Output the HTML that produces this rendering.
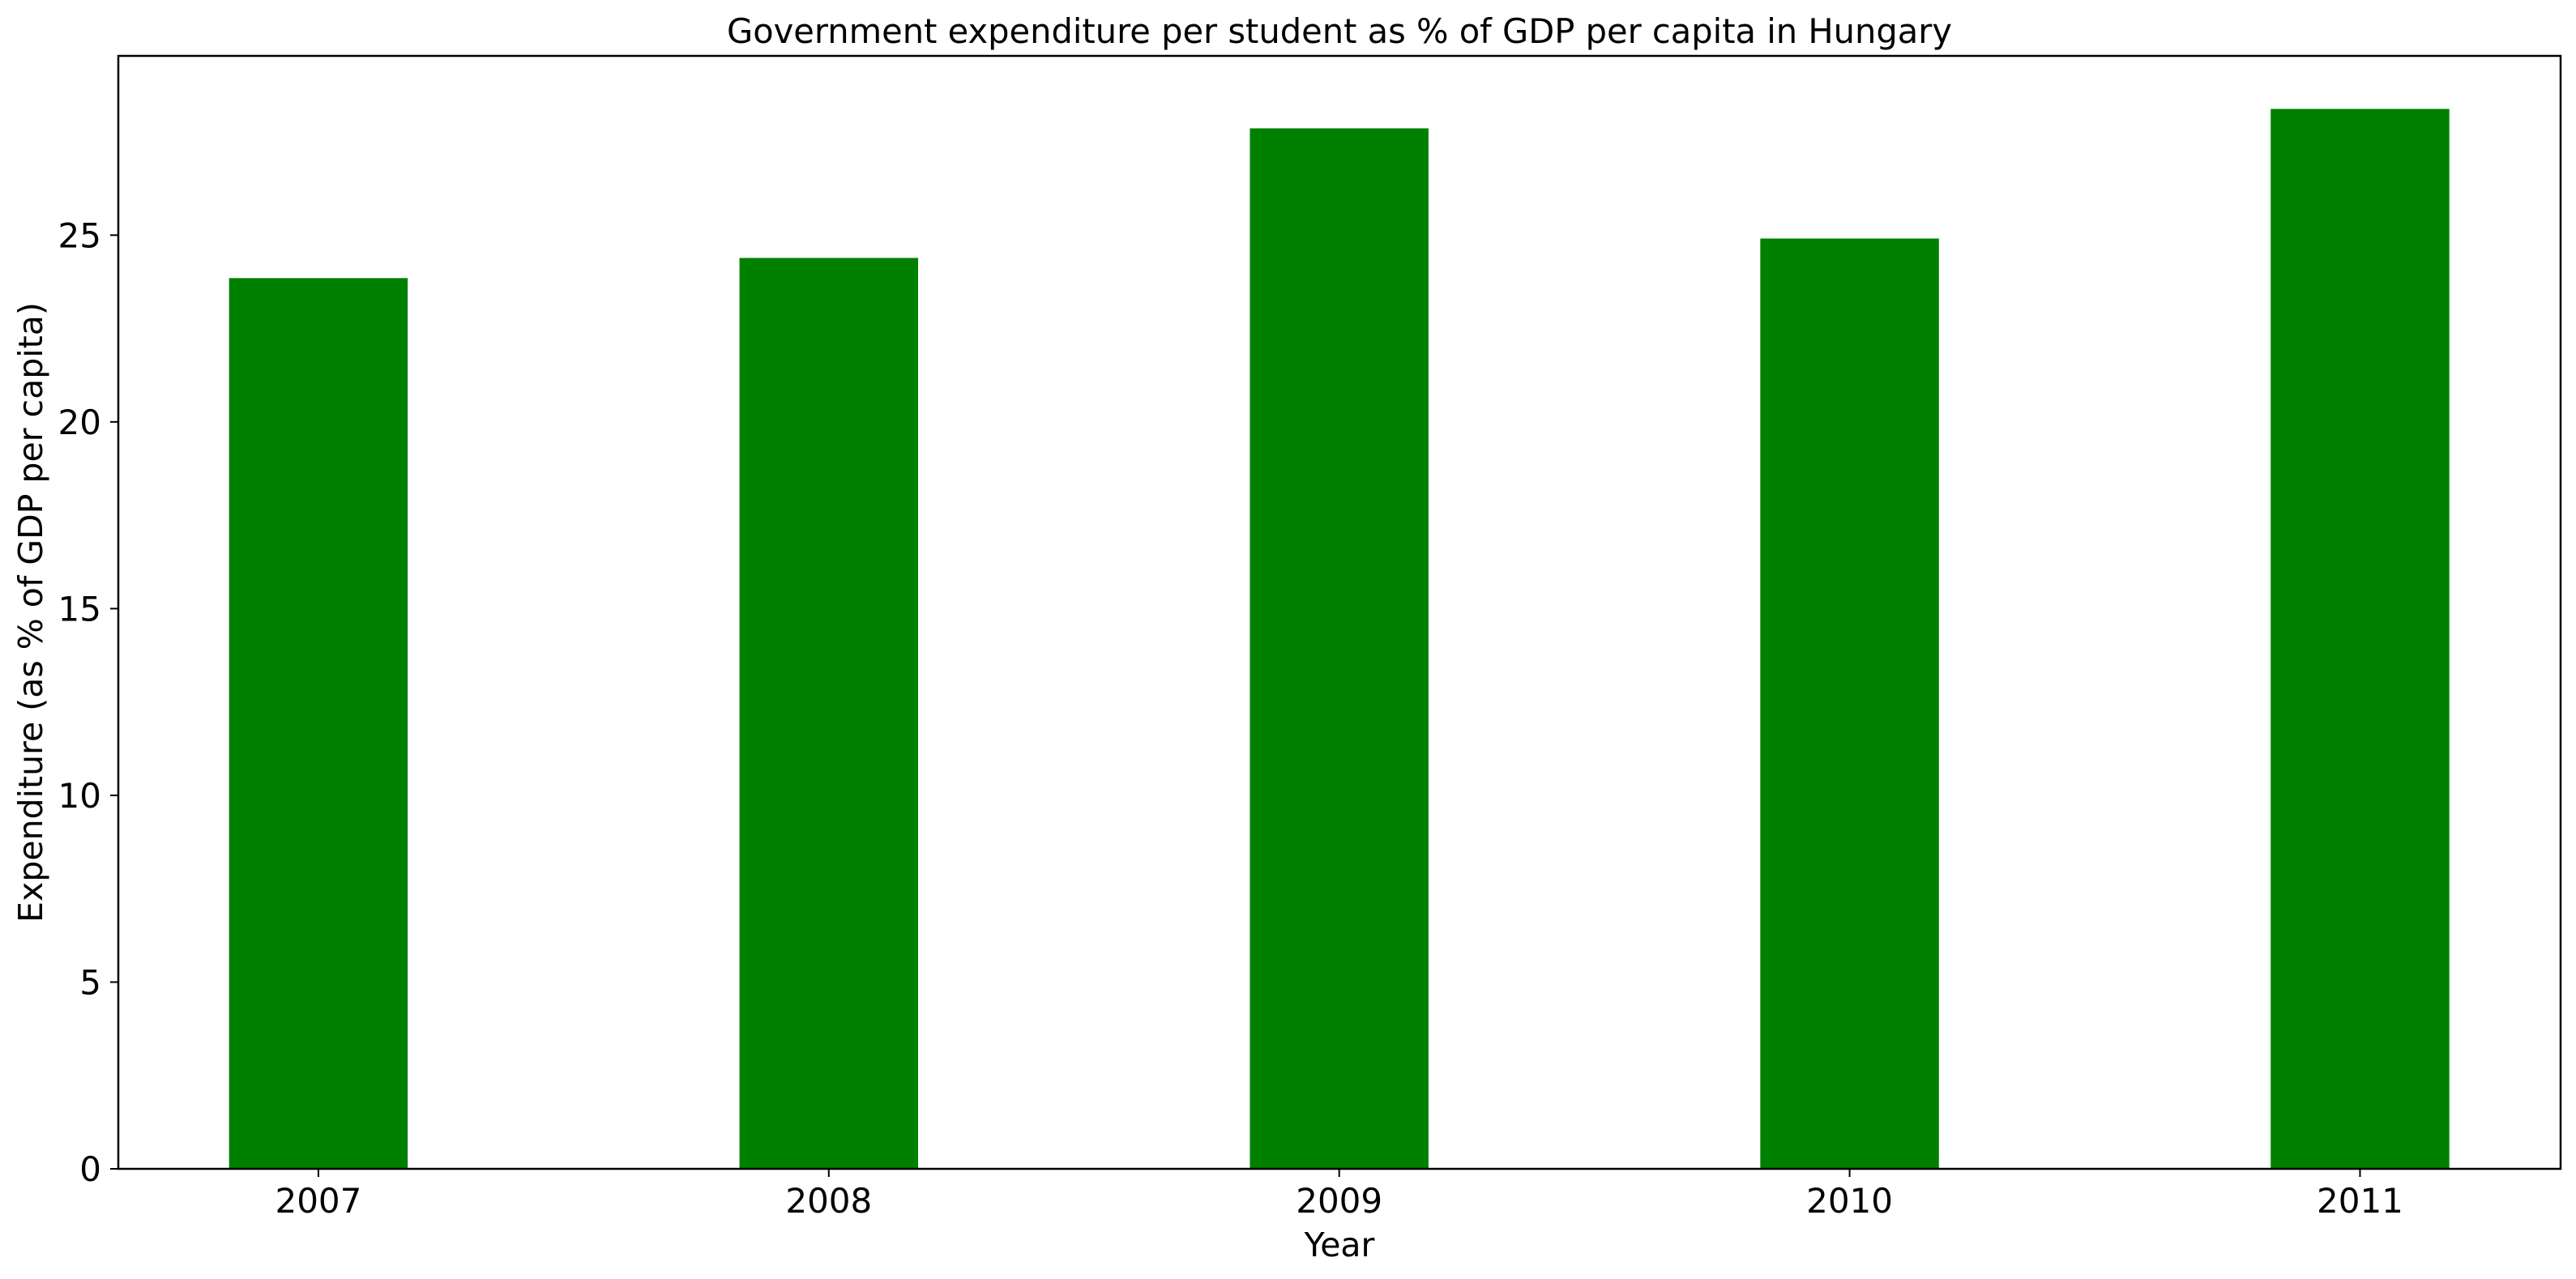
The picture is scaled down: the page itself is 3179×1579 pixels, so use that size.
<!DOCTYPE html>
<html><head><meta charset="utf-8"><style>
html,body{margin:0;padding:0;background:#fff;}
svg{display:block;font-family:"DejaVu Sans","Liberation Sans",sans-serif;}
</style></head><body>
<svg id="chart" width="3179" height="1579" viewBox="0 0 3179 1579" xmlns="http://www.w3.org/2000/svg">
<rect width="3179" height="1579" fill="#fff"/>
<text x="1653" y="53" font-size="41.6" text-anchor="middle" fill="#000">Government expenditure per student as % of GDP per capita in Hungary</text>
<g id="bars"></g>
<g id="xticks"></g>
<g id="yticks"></g>
<rect x="146" y="69" width="3014" height="1374" fill="none" stroke="#000" stroke-width="2.5"/>
<text x="1653" y="1551" font-size="41" text-anchor="middle" fill="#000">Year</text>
<text x="0" y="0" font-size="41" text-anchor="middle" fill="#000" transform="translate(52,756) rotate(-90)">Expenditure (as % of GDP per capita)</text>
</svg>
<script>
const categories = ["2007","2008","2009","2010","2011"];
const values = [23.85, 24.39, 27.86, 24.91, 28.38];
const yTicks = [0, 5, 10, 15, 20, 25];

const NS = "http://www.w3.org/2000/svg";
const L = 146, R = 3160, T = 69, B = 1443;
const xMin = -0.392, xMax = 4.393, yMin = 0, yMax = 29.8;
const barW = 0.35;
function xs(v){ return L + (v - xMin) / (xMax - xMin) * (R - L); }
function ys(v){ return B - (v - yMin) / (yMax - yMin) * (B - T); }

const gb = document.getElementById('bars');
values.forEach((v, i) => {
  const r = document.createElementNS(NS, 'rect');
  
  
  const x0 = xs(i - barW / 2), x1 = xs(i + barW / 2);
  r.setAttribute('x', x0);
  r.setAttribute('width', x1 - x0);
  r.setAttribute('y', ys(v));
  r.setAttribute('height', ys(0) - ys(v));
  r.setAttribute('fill', '#008000');
  gb.appendChild(r);
});

const gx = document.getElementById('xticks');
categories.forEach((c, i) => {
  const x = xs(i);
  const ln = document.createElementNS(NS, 'line');
  
  
  ln.setAttribute('x1', x); ln.setAttribute('x2', x);
  ln.setAttribute('y1', B); ln.setAttribute('y2', B + 10);
  ln.setAttribute('stroke', '#000'); ln.setAttribute('stroke-width', '2');
  gx.appendChild(ln);
  const t = document.createElementNS(NS, 'text');
  
  
  t.setAttribute('x', x); t.setAttribute('y', B + 54);
  t.setAttribute('font-size', '42'); t.setAttribute('text-anchor', 'middle');
  t.textContent = c;
  gx.appendChild(t);
});

const gy = document.getElementById('yticks');
yTicks.forEach(v => {
  const y = ys(v);
  const ln = document.createElementNS(NS, 'line');
  
  
  ln.setAttribute('x1', L - 10); ln.setAttribute('x2', L);
  ln.setAttribute('y1', y); ln.setAttribute('y2', y);
  ln.setAttribute('stroke', '#000'); ln.setAttribute('stroke-width', '2');
  gy.appendChild(ln);
  const t = document.createElementNS(NS, 'text');
  
  
  t.setAttribute('x', L - 21); t.setAttribute('y', y + 15);
  t.setAttribute('font-size', '42'); t.setAttribute('text-anchor', 'end');
  t.textContent = v;
  gy.appendChild(t);
});
</script>
</body></html>
